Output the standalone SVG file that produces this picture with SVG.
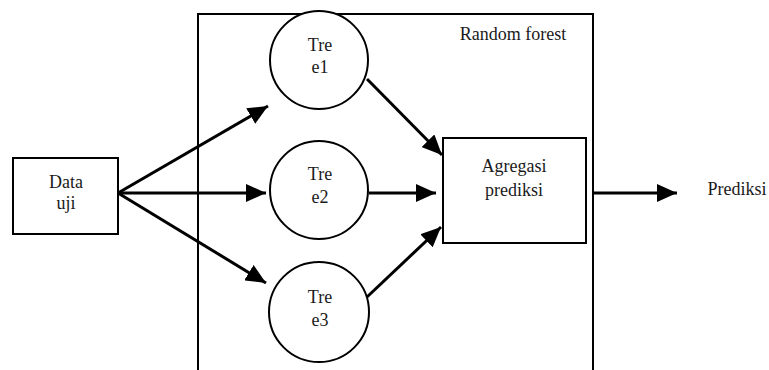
<svg xmlns="http://www.w3.org/2000/svg" width="769" height="370" viewBox="0 0 769 370">
<style>
.box{fill:none;stroke:#000;stroke-width:2}
.node{fill:#fff;stroke:#000;stroke-width:2}
.edge{stroke:#000;stroke-width:3;fill:none}
.t{font-family:'Liberation Serif','Times New Roman',serif;font-size:18px;fill:#1a1a1a;text-anchor:middle}
</style>
<defs>
<marker id="arr" markerUnits="userSpaceOnUse" markerWidth="20" markerHeight="18" refX="20" refY="9" orient="auto" viewBox="0 0 20 18">
<path d="M0,0 L20,9 L0,18 z" fill="#000"/>
</marker>
</defs>
<rect fill="#fff" x="0" y="0" width="769" height="370"/>
<g id="forest">
<rect class="box" x="198" y="14" width="395" height="370"/>
<text class="t" x="513" y="40">Random forest</text>
</g>
<g id="connectors">
<line class="edge" x1="118" y1="193" x2="268" y2="106" marker-end="url(#arr)"/>
<line class="edge" x1="118" y1="193" x2="266" y2="193" marker-end="url(#arr)"/>
<line class="edge" x1="118" y1="193" x2="266" y2="283" marker-end="url(#arr)"/>
<line class="edge" x1="367" y1="79" x2="442" y2="155" marker-end="url(#arr)"/>
<line class="edge" x1="369" y1="193" x2="436" y2="193" marker-end="url(#arr)"/>
<line class="edge" x1="367" y1="297" x2="441" y2="227" marker-end="url(#arr)"/>
<line class="edge" x1="593" y1="193" x2="677" y2="193" marker-end="url(#arr)"/>
</g>
<g id="data-uji">
<rect class="box" x="13" y="158" width="105" height="76"/>
<text class="t" x="66" y="188">Data</text>
<text class="t" x="66" y="209">uji</text>
</g>
<g id="tree1">
<circle class="node" cx="319" cy="60" r="49"/>
<text class="t" x="320" y="51">Tre</text>
<text class="t" x="320" y="73">e1</text>
</g>
<g id="tree2">
<circle class="node" cx="319" cy="190" r="49"/>
<text class="t" x="320" y="180">Tre</text>
<text class="t" x="320" y="203">e2</text>
</g>
<g id="tree3">
<circle class="node" cx="319" cy="312" r="50"/>
<text class="t" x="320" y="303">Tre</text>
<text class="t" x="320" y="326">e3</text>
</g>
<g id="agregasi">
<rect class="box" x="443" y="138" width="143" height="105"/>
<text class="t" x="514" y="172">Agregasi</text>
<text class="t" x="514" y="196">prediksi</text>
</g>
<g id="prediksi">
<text class="t" x="737" y="195">Prediksi</text>
</g>
</svg>
